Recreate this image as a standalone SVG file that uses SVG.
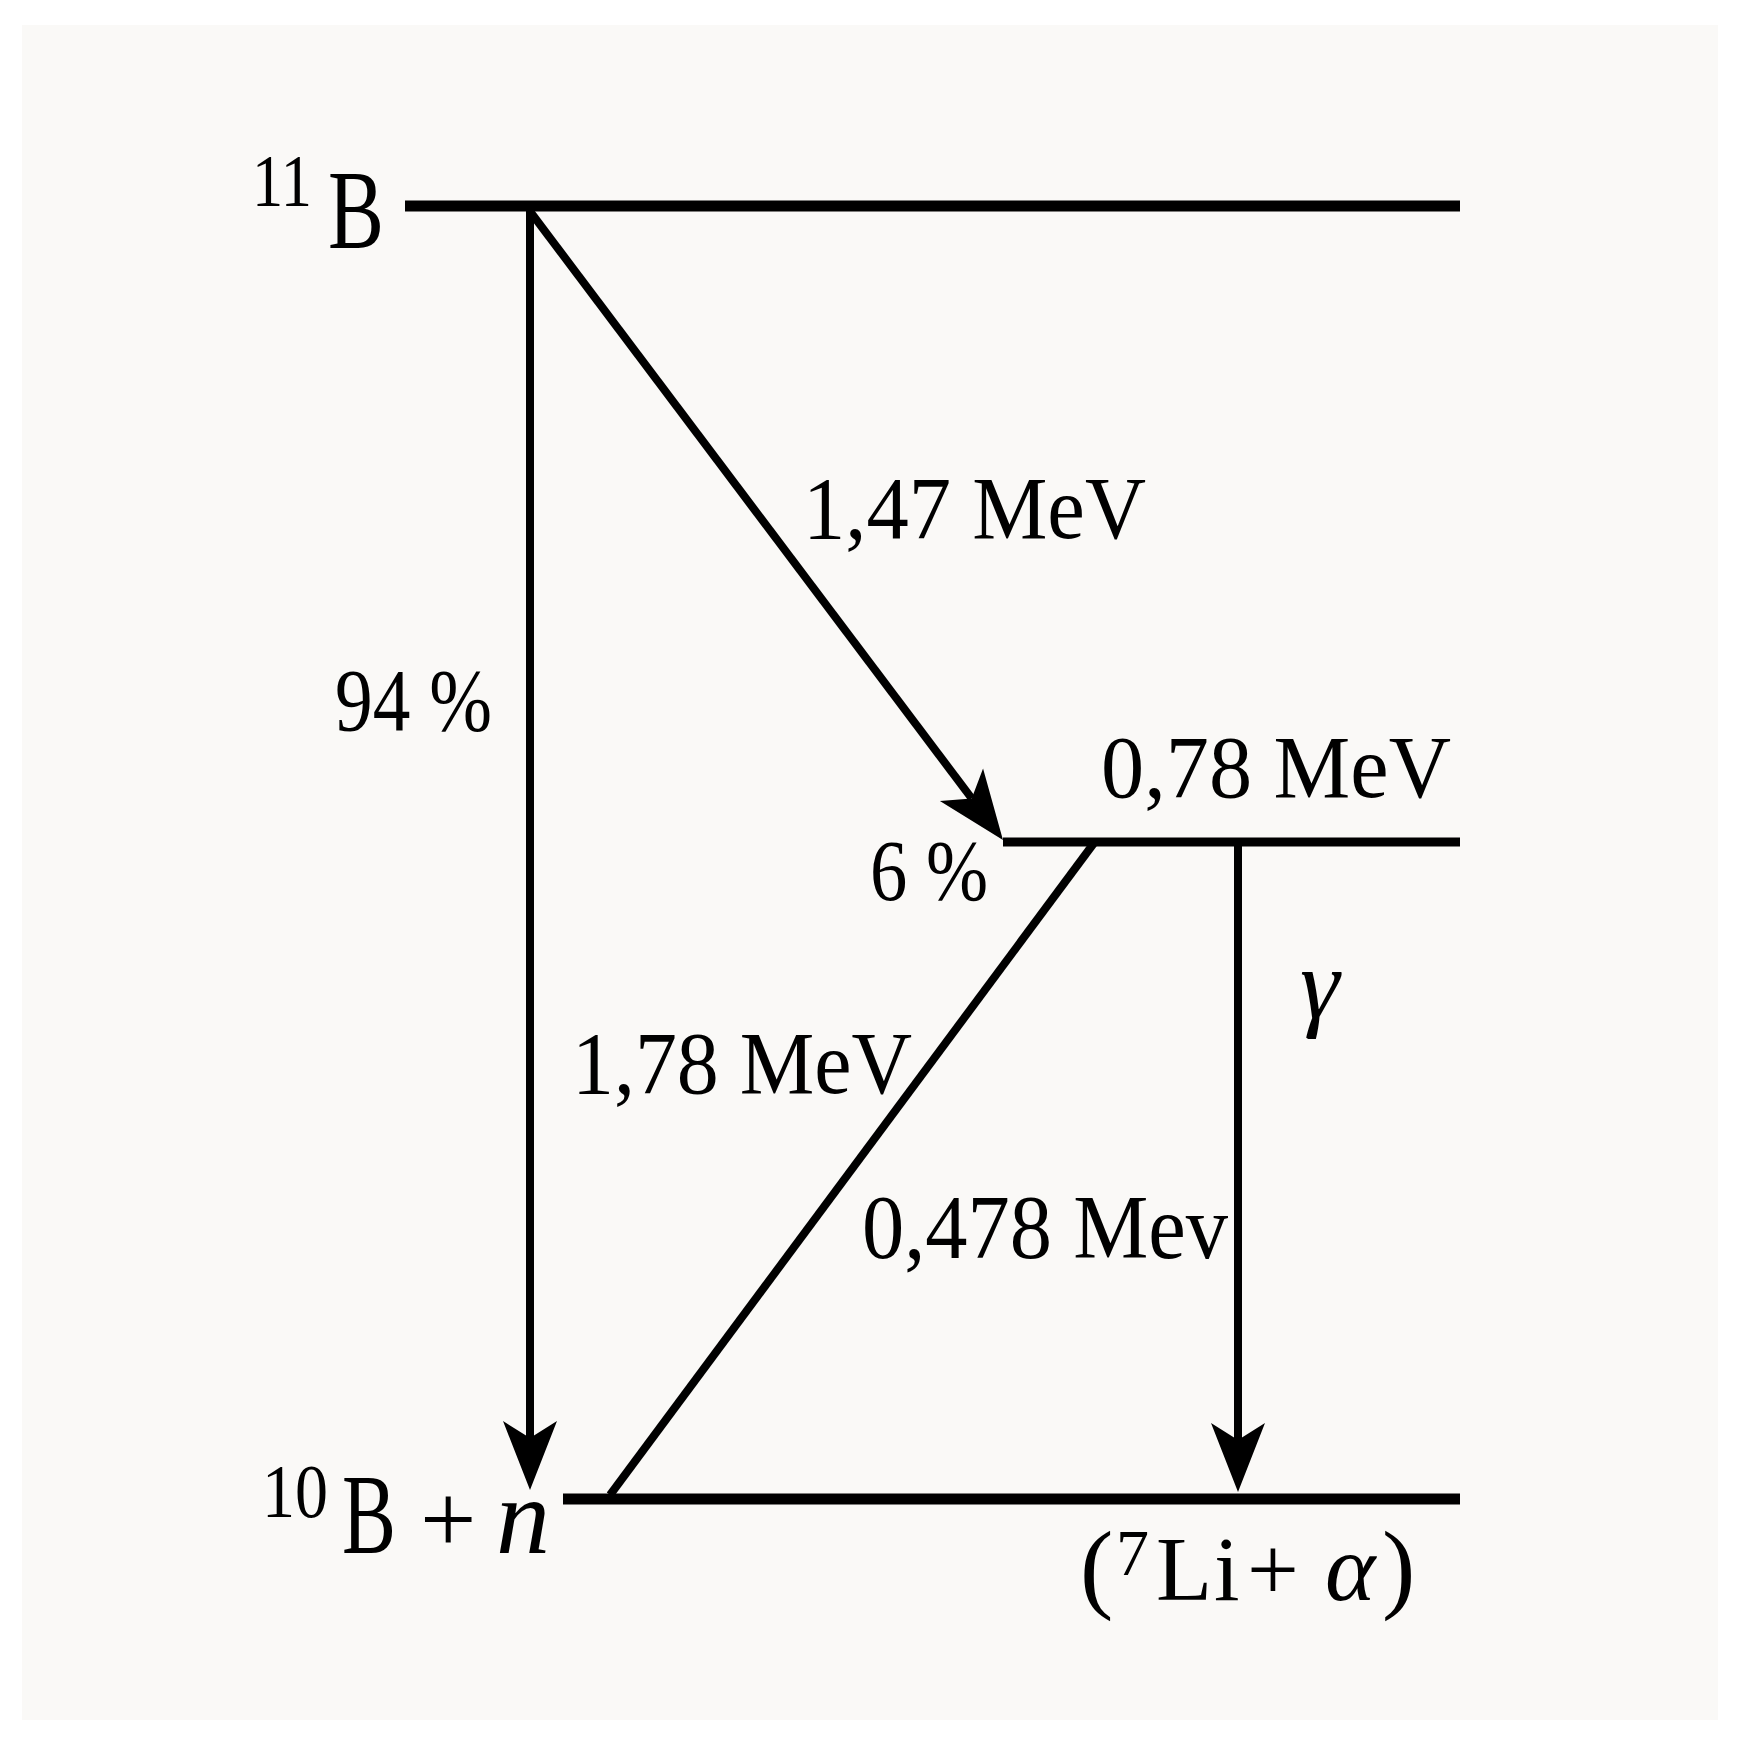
<svg xmlns="http://www.w3.org/2000/svg" width="1748" height="1752" viewBox="0 0 1748 1752">
  <style>
    .lvl { stroke:#000; fill:none; stroke-linecap:butt; }
    .tr { stroke:#000; stroke-width:8; fill:none; }
    .lbl { font-family:"Liberation Serif","Times New Roman",serif; fill:#000; }
    .it { font-style:italic; }
  </style>
  <defs>
    <marker id="arr" markerUnits="userSpaceOnUse" viewBox="-20 -30 76 60" refX="0" refY="0" markerWidth="76" markerHeight="60" orient="auto">
      <path d="M52,0 L-17,-27 L0,0 L-17,27 Z" fill="#000"/>
    </marker>
  </defs>
  <rect x="0" y="0" width="1748" height="1752" fill="#ffffff"/>
  <rect x="22" y="25" width="1696" height="1695" fill="#faf9f7"/>

  <g id="level-11B">
    <line class="lvl" x1="405" y1="206" x2="1460" y2="206" stroke-width="11"/>
    <text class="lbl" x="252" y="206" font-size="75" textLength="60" lengthAdjust="spacingAndGlyphs">11</text>
    <text class="lbl" x="328" y="248" font-size="113" textLength="56" lengthAdjust="spacingAndGlyphs">B</text>
  </g>

  <g id="level-mid">
    <line class="lvl" x1="1003" y1="842" x2="1460" y2="842" stroke-width="9"/>
    <text class="lbl" x="1101" y="797" font-size="88" textLength="350" lengthAdjust="spacingAndGlyphs">0,78 MeV</text>
  </g>

  <g id="level-10B">
    <line class="lvl" x1="563" y1="1499" x2="1460" y2="1499" stroke-width="11"/>
    <text class="lbl" x="262" y="1517" font-size="77" textLength="66" lengthAdjust="spacingAndGlyphs">10</text>
    <text class="lbl" x="342" y="1553" font-size="115" textLength="54" lengthAdjust="spacingAndGlyphs">B</text>
    <text class="lbl" x="420" y="1553" font-size="100">+</text>
    <text class="lbl it" x="496" y="1553" font-size="108">n</text>
    <text class="lbl" x="1080" y="1600" font-size="100">(</text>
    <text class="lbl" x="1116" y="1575" font-size="66">7</text>
    <text class="lbl" x="1156" y="1600" font-size="92">L</text>
    <text class="lbl" x="1214" y="1600" font-size="92">i</text>
    <text class="lbl" x="1247" y="1600" font-size="92">+</text>
    <text class="lbl it" x="1325" y="1600" font-size="96">α</text>
    <text class="lbl" x="1382" y="1600" font-size="100">)</text>
  </g>

  <g id="connectors">
    <line class="tr" x1="530" y1="206" x2="530" y2="1438" marker-end="url(#arr)"/>
    <line class="tr" x1="529" y1="210" x2="971.7" y2="798.4" marker-end="url(#arr)"/>
    <line class="tr" x1="610" y1="1495" x2="1094" y2="843"/>
    <line class="tr" x1="1238" y1="842" x2="1238" y2="1440" marker-end="url(#arr)"/>
  </g>

  <g id="labels">
    <text class="lbl" x="803" y="538" font-size="88" textLength="343" lengthAdjust="spacingAndGlyphs">1,47 MeV</text>
    <text class="lbl" x="335" y="730" font-size="88" textLength="157" lengthAdjust="spacingAndGlyphs">94 %</text>
    <text class="lbl" x="870" y="900" font-size="86" textLength="118" lengthAdjust="spacingAndGlyphs">6 %</text>
    <text class="lbl" x="572" y="1093" font-size="88" textLength="340" lengthAdjust="spacingAndGlyphs">1,78 MeV</text>
    <text class="lbl" x="862" y="1258" font-size="90" textLength="366" lengthAdjust="spacingAndGlyphs">0,478 Mev</text>
    <text class="lbl it" x="1300" y="1018" font-size="100">γ</text>
  </g>
</svg>
